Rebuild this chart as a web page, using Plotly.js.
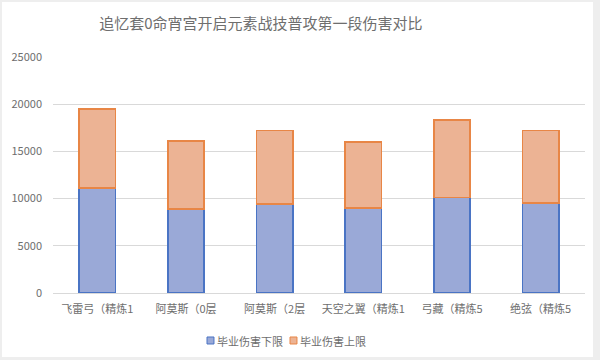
<!DOCTYPE html>
<html><head><meta charset="utf-8">
<script src="https://cdn.plot.ly/plotly-3.0.1.min.js"></script>
<style>
html,body{margin:0;padding:0;background:#eeeeee;width:600px;height:360px;overflow:hidden;}
#chart{position:absolute;left:2px;top:2px;width:591px;height:355px;background:#fff;}
</style></head>
<body><div id="chart"></div>
<script>
const categories = ["飞雷弓（精炼1", "阿莫斯（0层", "阿莫斯（2层", "天空之翼（精炼1", "弓藏（精炼5", "绝弦（精炼5"];
const lowerValues = [11100, 8900, 9450, 9000, 10100, 9550];
const upperExtra = [8400, 7200, 7750, 7000, 8250, 7650];
const seriesNames = ["毕业伤害下限", "毕业伤害上限"];
const yTicks = [0, 5000, 10000, 15000, 20000, 25000];

const fillColors = ['#9aa9d7', '#ecb394'];
const lineColors = ['#4a74c4', '#e88646'];
const font = "'Noto Sans CJK SC', 'Noto Sans', sans-serif";
const textColor = '#6e6e6e';

const traces = [lowerValues, upperExtra].map((vals, i) => ({
  type:'bar', name:seriesNames[i], x:categories, y:vals, showlegend:false,
  marker:{color:fillColors[i], line:{color:lineColors[i], width:1.5}}
}));

// custom legend (small square keys like the original)
const keyX = [0.2895, 0.4455];
const shapes = [], annotations = [];
seriesNames.forEach((n, i) => {
  shapes.push({type:'rect', xref:'paper', yref:'paper', x0:keyX[i], x1:keyX[i]+0.0131, y0:-0.2161, y1:-0.1864,
               fillcolor:fillColors[i], line:{color:lineColors[i], width:1}});
  annotations.push({xref:'paper', yref:'paper', x:keyX[i]+0.015, y:-0.2013, xanchor:'left', yanchor:'middle',
               showarrow:false, text:n, font:{family:font, size:11, color:textColor}});
});

const layout = {
  width:591, height:355,
  barmode:'stack', bargap:0.59,
  paper_bgcolor:'#fff', plot_bgcolor:'#fff',
  margin:{l:51, r:8, t:55, b:64},
  font:{family:font, color:textColor, size:11},
  title:{text:"追忆套0命宵宫开启元素战技普攻第一段伤害对比", font:{family:font, size:15, color:textColor},
         x:0.438, xanchor:'center', xref:'container', y:1-22/355, yanchor:'middle', yref:'container'},
  xaxis:{type:'category', showgrid:false, showline:true, linecolor:'#d9d9d9', linewidth:1,
         ticks:'', tickfont:{size:11, color:textColor}, ticklabelstandoff:6},
  yaxis:{range:[0,25000], tickvals:yTicks, ticktext:yTicks.map(String), showgrid:true, gridcolor:'#d9d9d9',
         gridwidth:1, zeroline:false, showline:false, ticks:'', tickfont:{size:11, color:textColor},
         ticklabelstandoff:10},
  showlegend:false,
  shapes:shapes, annotations:annotations
};
Plotly.newPlot('chart', traces, layout, {displayModeBar:false, staticPlot:true});
</script></body></html>
